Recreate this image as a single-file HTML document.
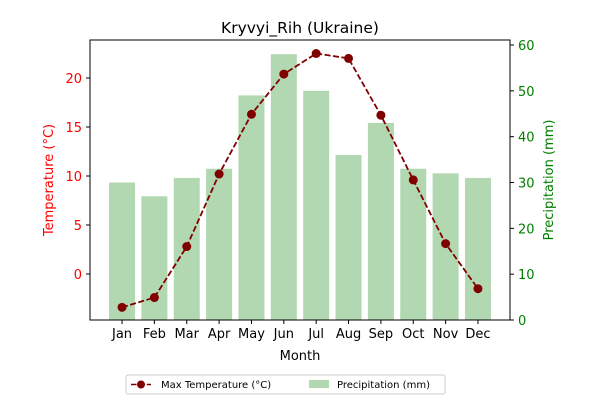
<!DOCTYPE html>
<html><head><meta charset="utf-8"><style>
body{margin:0;background:#fff;font-family:"Liberation Sans","DejaVu Sans",sans-serif;}
svg text{font-family:"DejaVu Sans","Liberation Sans",sans-serif;}
</style></head><body>
<svg id="c" width="600" height="400" xmlns="http://www.w3.org/2000/svg"></svg>
<script>
const months=["Jan","Feb","Mar","Apr","May","Jun","Jul","Aug","Sep","Oct","Nov","Dec"];
const maxTemp=[-3.4,-2.4,2.8,10.2,16.3,20.4,22.5,22.0,16.2,9.6,3.1,-1.5];
const precip=[30,27,31,33,49,58,50,36,43,33,32,31];
const tempTicks=[0,5,10,15,20];
const precipTicks=[0,10,20,30,40,50,60];

const L=90,R=510,T=40,B=320;
const x=i=>L+(i+0.99)*(R-L)/12.98;
const yT=v=>274-v*9.8;
const yP=v=>320-v*(275/60);
const svg=document.getElementById('c');
const NS='http://www.w3.org/2000/svg';
function mk(tag,attrs,parent){const e=document.createElementNS(NS,tag);for(const k in attrs)e.setAttribute(k,attrs[k]);(parent||svg).appendChild(e);return e;}
function txt(s,attrs){const e=mk('text',attrs);e.textContent=s;return e;}

precip.forEach((v,i)=>{
 const r=mk('rect',{x:x(i)-13,y:yP(v),width:26,height:B-yP(v),fill:'#b2d8b2'});
 
 
});
let d=maxTemp.map((v,i)=>(i?'L':'M')+x(i)+','+yT(v)).join(' ');
const ln=mk('path',{d:d,fill:'none',stroke:'#800000','stroke-width':1.8,'stroke-dasharray':'6,2.5'});


maxTemp.forEach((v,i)=>{
 const c=mk('circle',{cx:x(i),cy:yT(v),r:4.5,fill:'#800000'});
 
 
});
const fr=mk('rect',{x:L,y:T,width:R-L,height:B-T,fill:'none',stroke:'#000','stroke-width':1});


months.forEach((m,i)=>{
 mk('line',{x1:x(i),x2:x(i),y1:B,y2:B+4,stroke:'#000'});
 const t=txt(m,{x:x(i),y:B+18,'text-anchor':'middle','font-size':13,fill:'#000'});
 
 
});
tempTicks.forEach(v=>{
 mk('line',{x1:L-4,x2:L,y1:yT(v),y2:yT(v),stroke:'#000'});
 const t=txt(v,{x:L-8,y:yT(v)+5,'text-anchor':'end','font-size':13,fill:'red'});
 
 
});
precipTicks.forEach(v=>{
 mk('line',{x1:R,x2:R+4,y1:yP(v),y2:yP(v),stroke:'#000'});
 const t=txt(v,{x:R+8,y:yP(v)+5,'font-size':13,fill:'green'});
 
 
});
</script>
<svg width="600" height="400" style="position:absolute;left:0;top:0" xmlns="http://www.w3.org/2000/svg">
<text x="300" y="33" text-anchor="middle" font-size="15.5">Kryvyi_Rih (Ukraine)</text>
<text x="300" y="360" text-anchor="middle" font-size="13">Month</text>
<text transform="translate(53,180) rotate(-90)" text-anchor="middle" font-size="13" fill="red">Temperature (°C)</text>
<text transform="translate(553,180) rotate(-90)" text-anchor="middle" font-size="13" fill="green">Precipitation (mm)</text>
<g>
<rect x="126" y="375" width="319" height="19" fill="#fff" stroke="#ccc" rx="2"/>
<line x1="131" x2="151" y1="384.5" y2="384.5" stroke="#800000" stroke-width="1.5" stroke-dasharray="5.5,2.4"/>
<circle cx="141" cy="384.5" r="4" fill="#800000"/>
<text x="161" y="388" font-size="10">Max Temperature (°C)</text>
<rect x="309" y="380" width="20" height="8" fill="#b2d8b2"/>
<text x="337" y="388" font-size="10">Precipitation (mm)</text>
</g>
</svg>
</body></html>
